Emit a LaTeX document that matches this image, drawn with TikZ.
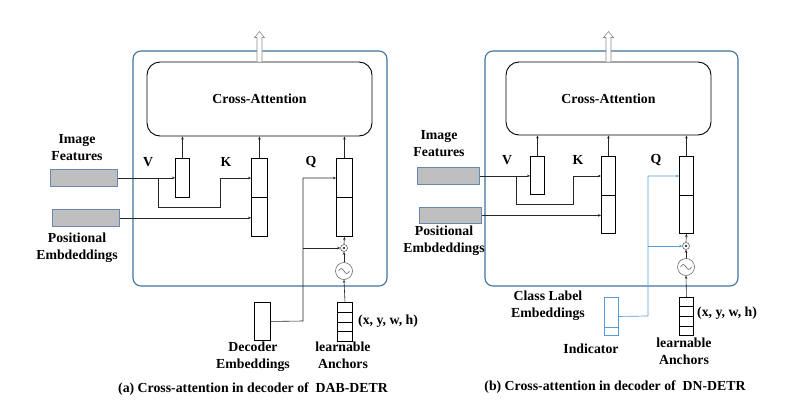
\documentclass[tikz,border=0pt]{standalone}
\usepackage{fontspec}
\setmainfont{Liberation Serif}
\usetikzlibrary{arrows.meta,calc}
\definecolor{oblue}{HTML}{41719C}
\definecolor{lblue}{HTML}{5B9BD5}
\definecolor{barfill}{HTML}{BFBFBF}
\definecolor{barline}{HTML}{6A87B0}
\tikzset{
  outerbox/.style={draw=oblue,line width=1.1pt,rounded corners=8pt},
  attnbox/.style={draw=black,line width=0.9pt,rounded corners=13pt,fill=white},
  vecbox/.style={draw=black,line width=0.9pt,fill=white,inner sep=0pt,anchor=north west},
  graybar/.style={draw=barline,line width=0.8pt,fill=barfill,inner sep=0pt,anchor=north west},
  conn/.style={draw=black!85,line width=0.6pt,-{Stealth[length=3pt,width=2.6pt]}},
  plain/.style={draw=black!85,line width=0.6pt},
  bconn/.style={draw=lblue,line width=0.7pt,-{Stealth[length=3pt,width=2.6pt]}},
  bplain/.style={draw=lblue,line width=0.7pt},
  lbl/.style={font=\fontsize{13.8}{17}\selectfont\bfseries,inner sep=0pt,align=center},
  opcirc/.style={circle,draw=black!60,line width=0.6pt,inner sep=0pt,fill=white},
  outarrow/.style={draw=black!45,line width=0.6pt,fill=white}
}
\begin{document}
\begin{tikzpicture}[x=1pt,y=-1pt]
\useasboundingbox (0,0) rectangle (789,404);

% ================= Panel (a) =================
\draw[outerbox] (133,51) rectangle (387,286);
\node[attnbox,minimum width=225pt,minimum height=74pt] (attA) at (259.5,99) {};
\node[lbl] (attAtxt) at (259.5,99) {Cross-Attention};
\draw[outarrow] ($(attA.north)+(-2.5,0)$) -- ++(0,-24) -- ++(-2.5,0) -- ++(5,-6) -- ++(5,6) -- ++(-2.5,0) -- ++(0,24);

\node[vecbox,minimum width=14pt,minimum height=39pt] (vA) at (175,158) {};
\node[vecbox,minimum width=16pt,minimum height=78pt] (kA) at (251,158) {};
\node[vecbox,minimum width=16pt,minimum height=78pt] (qA) at (336,158) {};
\draw[line width=0.9pt] (kA.west) -- (kA.east);
\draw[line width=0.9pt] (qA.west) -- (qA.east);

\draw[conn] (vA.north) -- (vA.north |- attA.south);
\draw[conn] (kA.north) -- (kA.north |- attA.south);
\draw[conn] (qA.north) -- (qA.north |- attA.south);

\node[lbl] (vlA) at (148,162) {V};
\node[lbl] (klA) at (226,162) {K};
\node[lbl] (qlA) at (311,162) {Q};

\node[graybar,minimum width=67pt,minimum height=17pt] (imgA) at (50,169) {};
\node[graybar,minimum width=67pt,minimum height=17pt] (posA) at (52,209) {};
\node[lbl] (imgAtxt) at (77,148) {Image\\Features};
\node[lbl] (posAtxt) at (77,247.5) {Positional\\Embdeddings};

\draw[conn] (imgA.east) -- (imgA.east -| vA.west);
\coordinate (brA) at (158,177.5);
\draw[conn] (brA) -- (158,207) -- (220,207) -- (220,178) -- (kA.west |- 0,178);
\draw[conn] (posA.east) -- (posA.east -| kA.west);

\node[opcirc,minimum size=7pt] (odA) at (344,248) {};
\fill[black] (odA) circle (1.1pt);
\node[opcirc,minimum size=17pt] (sinA) at (344,271) {};
\draw[black!60,line width=0.6pt] ($(sinA)+(-5.5,0)$) sin ++(2.75,-2.5) cos ++(2.75,2.5) sin ++(2.75,2.5) cos ++(2.75,-2.5);

\node[vecbox,minimum width=15pt,minimum height=39pt] (ancA) at (337,302) {};
\foreach \f in {0.25,0.5,0.75}
  \draw[line width=0.9pt] ($(ancA.north west)!\f!(ancA.south west)$) -- ($(ancA.north east)!\f!(ancA.south east)$);
\node[vecbox,minimum width=16pt,minimum height=38pt] (decA) at (254,302) {};

\draw[conn] (odA.north) -- (qA.south);
\draw[conn] (sinA.north) -- (odA.south);
\draw[conn] (ancA.north) -- (sinA.south);

\draw[conn] (decA.east) -- (303,321) -- (303,178) -- (qA.west |- 0,178);
\coordinate (qbrA) at (303,248);
\draw[conn] (qbrA) -- (odA.west);

\node[lbl] (decAtxt) at (253,357) {Decoder\\Embeddings};
\node[lbl] (ancAtxt) at (343,355) {learnable\\Anchors};
\node[lbl,anchor=west] (xywhA) at (358,321) {(x, y, w, h)};
\node[lbl] (capA) at (253,389) {(a) Cross-attention in decoder of \ DAB-DETR};

% ================= Panel (b) =================
\draw[outerbox] (485,51) rectangle (738,286);
\node[attnbox,minimum width=205pt,minimum height=73pt] (attB) at (608.5,98.5) {};
\node[lbl] (attBtxt) at (608.5,98.5) {Cross-Attention};
\draw[outarrow] ($(attB.north)+(-2.5,0)$) -- ++(0,-24) -- ++(-2.5,0) -- ++(5,-6) -- ++(5,6) -- ++(-2.5,0) -- ++(0,24);

\node[vecbox,minimum width=14pt,minimum height=38pt] (vB) at (530,156) {};
\node[vecbox,minimum width=14pt,minimum height=77pt] (kB) at (601,156) {};
\node[vecbox,minimum width=14pt,minimum height=77pt] (qB) at (679,156) {};
\draw[line width=0.9pt] (kB.west) -- (kB.east);
\draw[line width=0.9pt] (qB.west) -- (qB.east);

\draw[conn] (vB.north) -- (vB.north |- attB.south);
\draw[conn] (kB.north) -- (kB.north |- attB.south);
\draw[conn] (qB.north) -- (qB.north |- attB.south);

\node[lbl] (vlB) at (507,160) {V};
\node[lbl] (klB) at (578,160) {K};
\node[lbl] (qlB) at (656,160) {Q};

\node[graybar,minimum width=62pt,minimum height=17pt] (imgB) at (417,167) {};
\node[graybar,minimum width=62pt,minimum height=16pt] (posB) at (419,207) {};
\node[lbl] (imgBtxt) at (439,143.5) {Image\\Features};
\node[lbl] (posBtxt) at (444,240.5) {Positional\\Embdeddings};

\draw[conn] (imgB.east) -- (imgB.east -| vB.west);
\coordinate (brB) at (516,175.5);
\draw[conn] (brB) -- (516,204) -- (573,204) -- (573,176) -- (kB.west |- 0,176);
\draw[conn] (posB.east) -- (posB.east -| kB.west);

\node[opcirc,minimum size=7pt] (odB) at (686,246) {};
\fill[black] (odB) circle (1.1pt);
\node[opcirc,minimum size=17pt] (sinB) at (686,267) {};
\draw[black!60,line width=0.6pt] ($(sinB)+(-5.5,0)$) sin ++(2.75,-2.5) cos ++(2.75,2.5) sin ++(2.75,2.5) cos ++(2.75,-2.5);

\node[vecbox,minimum width=14pt,minimum height=38pt] (ancB) at (679,297) {};
\foreach \f in {0.25,0.5,0.75}
  \draw[line width=0.9pt] ($(ancB.north west)!\f!(ancB.south west)$) -- ($(ancB.north east)!\f!(ancB.south east)$);
\node[vecbox,draw=lblue,minimum width=14pt,minimum height=38pt] (indB) at (604,297) {};
\draw[lblue,line width=0.9pt] ($(indB.north west)!0.79!(indB.south west)$) -- ($(indB.north east)!0.79!(indB.south east)$);

\draw[conn] (odB.north) -- (qB.south);
\draw[conn] (sinB.north) -- (odB.south);
\draw[conn] (ancB.north) -- (sinB.south);

\draw[bconn] (indB.east) -- (648,316) -- (648,176) -- (qB.west |- 0,176);
\coordinate (qbrB) at (648,246);
\draw[bconn] (qbrB) -- (odB.west);

\node[lbl] (clsBtxt) at (548,306) {Class Label\\Embeddings};
\node[lbl] (indBtxt) at (591,349) {Indicator};
\node[lbl] (ancBtxt) at (684,351.5) {learnable\\Anchors};
\node[lbl,anchor=west] (xywhB) at (697,313) {(x, y, w, h)};
\node[lbl] (capB) at (615,387) {(b) Cross-attention in decoder of \ DN-DETR};
\end{tikzpicture}
\end{document}
